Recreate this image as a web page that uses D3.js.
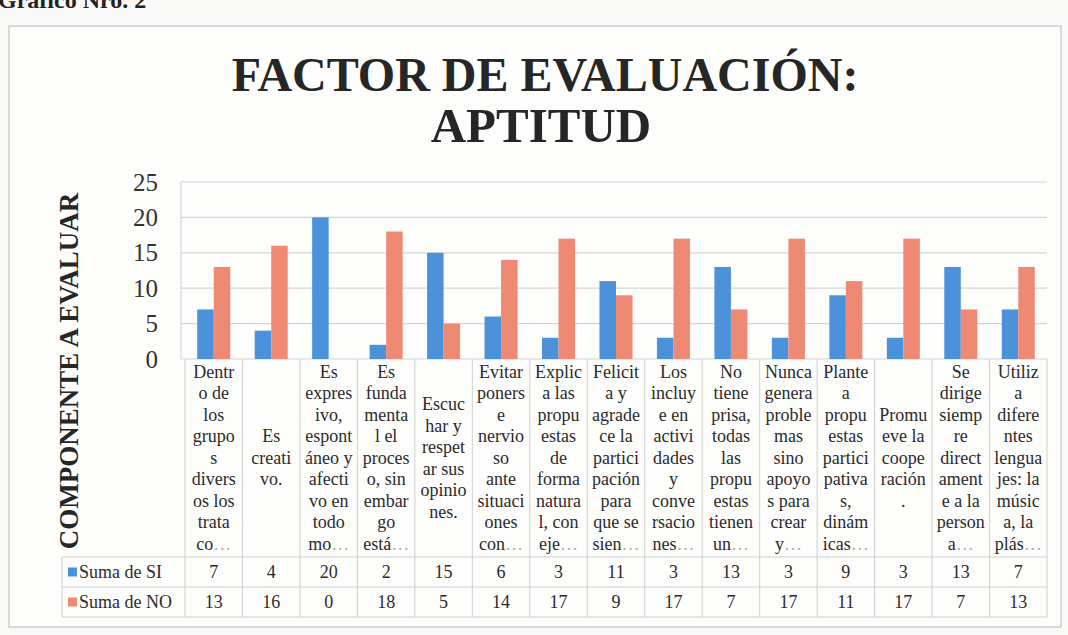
<!DOCTYPE html>
<html>
<head>
<meta charset="utf-8">
<script src="https://cdn.jsdelivr.net/npm/d3@7"></script>
<style>
  body { margin: 0; background: #f9f9f7; }
  svg { display: block; }
</style>
</head>
<body>
<script>
// categorias (ya cortadas como en la tabla de Excel)
const categorias = [
  ["Dentr", "o de", "los", "grupo", "s", "divers", "os los", "trata", "co…"],
  ["Es", "creati", "vo."],
  ["Es", "expres", "ivo,", "espont", "áneo y", "afecti", "vo en", "todo", "mo…"],
  ["Es", "funda", "menta", "l el", "proces", "o, sin", "embar", "go", "está…"],
  ["Escuc", "har y", "respet", "ar sus", "opinio", "nes."],
  ["Evitar", "poners", "e", "nervio", "so", "ante", "situaci", "ones", "con…"],
  ["Explic", "a las", "propu", "estas", "de", "forma", "natura", "l, con", "eje…"],
  ["Felicit", "a y", "agrade", "ce la", "partici", "pación", "para", "que se", "sien…"],
  ["Los", "incluy", "e en", "activi", "dades", "y", "conve", "rsacio", "nes…"],
  ["No", "tiene", "prisa,", "todas", "las", "propu", "estas", "tienen", "un…"],
  ["Nunca", "genera", "proble", "mas", "sino", "apoyo", "s para", "crear", "y…"],
  ["Plante", "a", "propu", "estas", "partici", "pativa", "s,", "dinám", "icas…"],
  ["Promu", "eve la", "coope", "ración", "."],
  ["Se", "dirige", "siemp", "re", "direct", "ament", "e a la", "person", "a…"],
  ["Utiliz", "a", "difere", "ntes", "lengua", "jes: la", "músic", "a, la", "plás…"]
];
const sumaSI = [7, 4, 20, 2, 15, 6, 3, 11, 3, 13, 3, 9, 3, 13, 7];
const sumaNO = [13, 16, 0, 18, 5, 14, 17, 9, 17, 7, 17, 11, 17, 7, 13];
const series = ["Suma de SI", "Suma de NO"];
const yTicks = [0, 5, 10, 15, 20, 25];

const colores = {"Suma de SI": "#4b92db", "Suma de NO": "#ee8a74"};
const fuente = "'Liberation Serif', 'Times New Roman', serif";
const W = 1068, H = 635;

const svg = d3.select("body").append("svg")
  .attr("width", W).attr("height", H)
  .attr("font-family", fuente);

// titulo de la pagina, cortado arriba
svg.append("text").attr("x", -2).attr("y", 8)
  .attr("font-size", 24).attr("font-weight", "bold").attr("fill", "#222")
  .text("Gráfico Nro. 2");

// marco del grafico
svg.append("rect").attr("x", 9).attr("y", 26).attr("width", 1052).attr("height", 601)
  .attr("fill", "#fdfdfc").attr("stroke", "#c4c4c4").attr("stroke-width", 1.2);

svg.append("text").attr("x", 545).attr("y", 91)
  .attr("text-anchor", "middle").attr("font-size", 48).attr("font-weight", "bold").attr("fill", "#262626")
  .text("FACTOR DE EVALUACIÓN:");
svg.append("text").attr("x", 541).attr("y", 142)
  .attr("text-anchor", "middle").attr("font-size", 49).attr("font-weight", "bold").attr("fill", "#262626")
  .text("APTITUD");

const pLeft = 185, pRight = 1047, pTop = 182, base = 359;

let x = d3.scaleBand().domain(d3.range(categorias.length)).range([pLeft, pRight]);
let xs = d3.scaleBand().domain(series).range([0, x.bandwidth()]).paddingOuter(0.74);
let y = d3.scaleLinear().domain([0, 25]).range([base, pTop]);

// grid
svg.append("g").selectAll("line").data(yTicks).enter().append("line")
  .attr("x1", pLeft - 4).attr("x2", pRight)
  .attr("y1", d => y(d)).attr("y2", d => y(d))
  .attr("stroke", "#d6d6d6").attr("stroke-width", 1.2);
svg.append("line").attr("x1", pLeft - 4).attr("x2", pLeft - 4)
  .attr("y1", y(25)).attr("y2", base).attr("stroke", "#d6d6d6").attr("stroke-width", 1.2);

// eje y
let yAxis = svg.append("g").attr("transform", "translate(" + (pLeft - 4) + ",0)")
  .call(d3.axisLeft(y).tickValues(yTicks).tickSize(0).tickPadding(23));
yAxis.attr("font-family", fuente);
yAxis.select(".domain").remove();
yAxis.selectAll("text").attr("font-size", 25).attr("fill", "#333");

svg.append("text")
  .attr("transform", "translate(78,371) rotate(-90)")
  .attr("text-anchor", "middle").attr("font-size", 27).attr("font-weight", "bold").attr("fill", "#262626")
  .text("COMPONENTE A EVALUAR");

// barras
const tabla = categorias.map((c, i) => ({i: i, vals: [sumaSI[i], sumaNO[i]]}));
svg.append("g").selectAll("g").data(tabla).enter().append("g")
  .attr("transform", d => "translate(" + x(d.i) + ",0)")
  .selectAll("rect").data(d => d.vals.map((v, k) => ({s: series[k], v: v}))).enter()
  .append("rect")
  .attr("x", d => xs(d.s)).attr("width", xs.bandwidth())
  .attr("y", d => y(d.v)).attr("height", d => base - y(d.v))
  .attr("fill", d => colores[d.s]);

// tabla de datos
const tTop = base, rowTop = 557, rowH = 30, tLeft = 62;
const lineH = 21.5;
const lineaGris = "#cfcfcf";

let cols = svg.append("g");
x.domain().forEach(i => {
  cols.append("line").attr("x1", x(i)).attr("x2", x(i))
    .attr("y1", tTop).attr("y2", rowTop + 2 * rowH).attr("stroke", lineaGris);
});
cols.append("line").attr("x1", pRight).attr("x2", pRight)
  .attr("y1", tTop).attr("y2", rowTop + 2 * rowH).attr("stroke", lineaGris);
[rowTop, rowTop + rowH, rowTop + 2 * rowH].forEach(yy => {
  cols.append("line").attr("x1", tLeft).attr("x2", pRight)
    .attr("y1", yy).attr("y2", yy).attr("stroke", lineaGris);
});
cols.append("line").attr("x1", tLeft).attr("x2", tLeft)
  .attr("y1", rowTop).attr("y2", rowTop + 2 * rowH).attr("stroke", lineaGris);

// textos de categoria
categorias.forEach((lineas, i) => {
  let cx = x(i) + x.bandwidth() / 2;
  let y0 = (tTop + rowTop) / 2 - (lineas.length - 1) * lineH / 2;
  let t = svg.append("text").attr("text-anchor", "middle").attr("font-size", 18).attr("fill", "#2b2b2b");
  lineas.forEach((l, k) => {
    let ts = t.append("tspan").attr("x", cx).attr("y", y0 + k * lineH).attr("dy", "0.33em");
    if (l.endsWith("…")) {
      ts.text(l.slice(0, -1));
      ts.append("tspan").attr("fill", "#b0b0b0").text("…");
    } else {
      ts.text(l);
    }
  });
});

// filas de valores
[sumaSI, sumaNO].forEach((vals, r) => {
  let cy = rowTop + rowH * r + rowH / 2;
  svg.append("rect").attr("x", tLeft + 6).attr("y", cy - 4.5).attr("width", 9).attr("height", 9)
    .attr("fill", colores[series[r]]);
  svg.append("text").attr("x", tLeft + 17).attr("y", cy).attr("dy", "0.33em")
    .attr("font-size", 18).attr("fill", "#2b2b2b").text(series[r]);
  svg.append("g").selectAll("text").data(vals).enter().append("text")
    .attr("x", (d, i) => x(i) + x.bandwidth() / 2).attr("y", cy).attr("dy", "0.33em")
    .attr("text-anchor", "middle").attr("font-size", 18).attr("fill", "#2b2b2b")
    .text(d => d);
});
</script>
</body>
</html>
